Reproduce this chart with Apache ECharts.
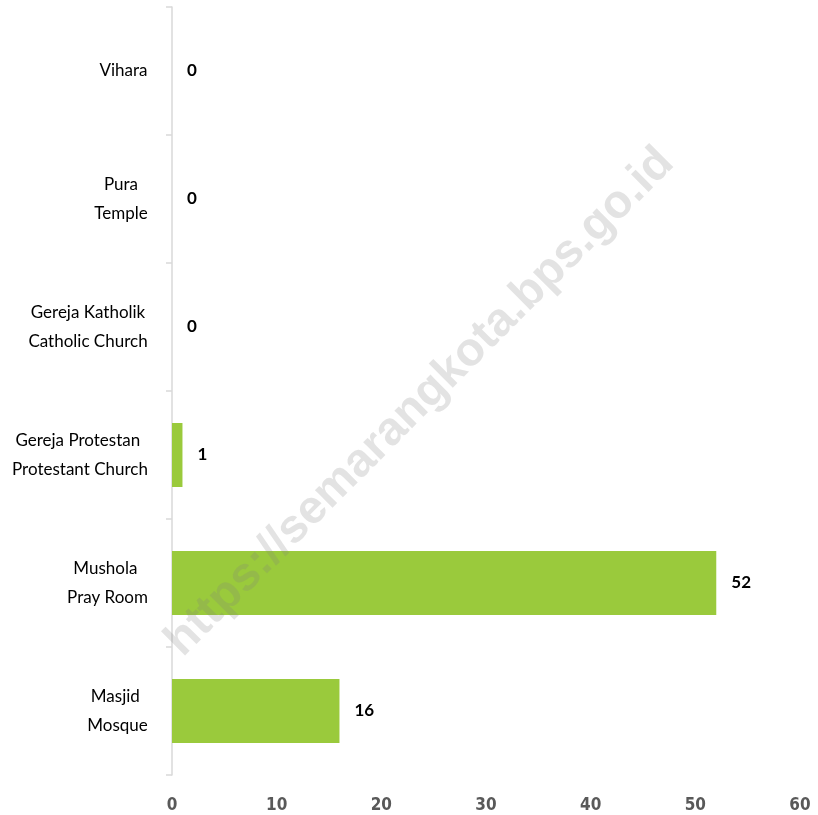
<!DOCTYPE html>
<html>
<head>
<meta charset="utf-8">
<script src="https://cdn.jsdelivr.net/npm/echarts@6/dist/echarts.min.js"></script>
<style>html,body{margin:0;padding:0;background:#fff;}#c{width:818px;height:815px;}</style>
</head>
<body>
<div id="c"></div>
<script>
const categories = ['Masjid \nMosque', 'Mushola \nPray Room', 'Gereja Protestan \nProtestant Church', 'Gereja Katholik\nCatholic Church', 'Pura\nTemple', 'Vihara'];
const values = [16, 52, 1, 0, 0, 0];
const xTicks = [0, 10, 20, 30, 40, 50, 60];
const watermark = 'https://semarangkota.bps.go.id';

const LABEL_FONT = '17px Lato';
const ctx = document.createElement('canvas').getContext('2d');
ctx.font = LABEL_FONT;
const rich = {};
categories.forEach((c, i) => {
  const w = Math.max(...c.split('\n').map(l => ctx.measureText(l).width));
  rich['c' + i] = { width: Math.ceil(w), align: 'center', fontFamily: 'Lato', fontSize: 17, color: '#000', lineHeight: 29 };
});

const chart = echarts.init(document.getElementById('c'));
chart.setOption({
  animation: false,
  grid: { left: 172, right: 18, top: 7, bottom: 40, containLabel: false },
  xAxis: {
    type: 'value', min: xTicks[0], max: xTicks[xTicks.length - 1], interval: 10,
    axisLine: { show: false }, axisTick: { show: false }, splitLine: { show: false },
    axisLabel: { margin: 22, color: '#595959', fontSize: 17, fontWeight: 'bold', fontFamily: '"DejaVu Sans Condensed", "Roboto", sans-serif' }
  },
  yAxis: {
    type: 'category', data: categories,
    axisLine: { show: true, lineStyle: { color: '#d9d9d9', width: 1.5 } },
    axisTick: { show: true, length: 6, lineStyle: { color: '#d9d9d9', width: 1.5 } },
    axisLabel: {
      margin: 24, align: 'right',
      formatter: (v, i) => v.split('\n').map(l => '{c' + i + '|' + l + '}').join('\n'),
      rich: rich
    }
  },
  series: [{
    type: 'bar', data: values, barWidth: '50%',
    itemStyle: { color: '#9ACA3C' },
    label: { show: true, position: 'right', distance: 15, color: '#000', fontSize: 17, fontWeight: 'bold', fontFamily: 'Lato' }
  }],
  graphic: [{
    type: 'text', z: 100,
    x: 420, y: 402,
    rotation: Math.PI / 4,
    style: { text: watermark, font: 'bold 47px "Liberation Sans"', fill: 'rgba(128,128,128,0.22)', align: 'center', verticalAlign: 'middle' }
  }]
});
</script>
</body>
</html>
